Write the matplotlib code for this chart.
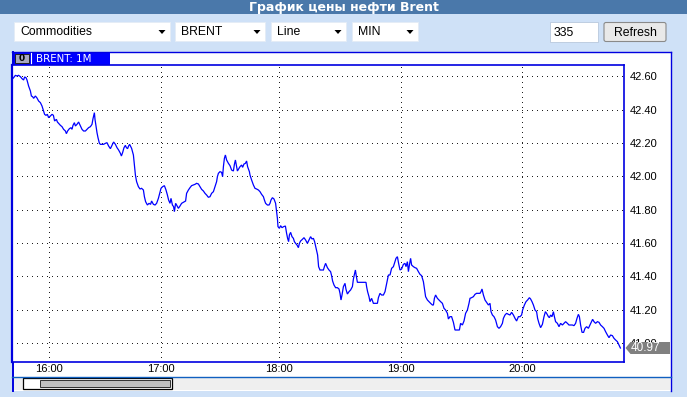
import matplotlib
matplotlib.use("Agg")
import matplotlib.pyplot as plt
from matplotlib.patches import Rectangle, Polygon, FancyBboxPatch

# ---------------- data ----------------
title = "График цены нефти Brent"
controls = ["Commodities", "BRENT", "Line", "MIN"]
bars_count = "335"
button_label = "Refresh"
series_name = "BRENT: 1M"

tick_times = ["16:00", "17:00", "18:00", "19:00", "20:00"]
tick_bar_index = [18.25, 74.5, 133.7, 194.5, 255.2]
price_ticks = [41.00, 41.20, 41.40, 41.60, 41.80, 42.00, 42.20, 42.40, 42.60]
last_price = 40.97

bar_index = [
    0.0, 0.8, 1.7, 2.5, 3.3, 4.2, 5.0, 5.8, 6.3, 7.0, 7.5, 8.3, 9.2, 9.7, 10.3, 10.8,
    11.7, 12.5, 13.3, 14.2, 15.0, 15.8, 16.3, 17.0, 17.7, 18.3, 19.2, 20.0, 20.7, 21.3,
    22.2, 22.7, 23.3, 24.2, 25.0, 25.8, 26.7, 27.2, 27.8, 28.7, 29.5, 30.0, 30.5, 31.2,
    31.7, 32.5, 33.3, 34.2, 35.0, 35.8, 36.7, 37.5, 38.3, 39.2, 40.0, 40.5, 40.8, 41.2,
    41.5, 42.0, 42.5, 43.0, 43.7, 44.2, 45.0, 45.8, 46.7, 47.5, 48.3, 49.2, 50.0, 50.8,
    51.7, 52.5, 53.3, 54.2, 54.7, 55.3, 56.0, 56.7, 57.2, 57.8, 58.3, 58.8,
    59.8, 60.7, 61.2, 61.7, 62.3, 63.2, 64.0, 64.8, 65.7, 66.2, 66.8, 67.7, 68.5, 69.3,
    69.8, 70.7, 71.5, 72.3, 73.2, 73.7, 74.5, 75.3, 76.2, 77.0, 77.7, 78.3, 79.0, 79.5,
    80.2, 80.8, 81.2, 81.8, 82.3, 83.2, 84.0, 84.8, 85.7, 86.8, 87.3, 88.2, 89.0, 89.8,
    90.7, 91.5, 92.3, 93.2, 94.0, 94.8, 95.7, 96.5, 97.3, 98.2, 99.0, 99.8, 100.7, 101.5,
    102.3, 102.7, 103.2, 104.0, 104.8, 105.3, 105.7, 106.2, 106.7, 107.3, 108.2, 109.0,
    109.8, 110.7, 111.2, 111.7, 112.2, 112.7, 113.5, 114.0, 114.8, 115.3, 116.0, 116.7,
    117.3, 117.8, 118.7,
    119.0, 119.8, 120.7, 121.5, 122.3, 123.2, 124.0, 124.8, 125.7, 126.2, 126.8, 127.7,
    128.5, 129.0, 129.5, 130.2, 131.0, 131.8, 132.3, 132.7, 133.0, 133.7, 134.3, 135.0,
    135.8, 136.7, 137.3, 137.8, 138.3, 138.7, 139.3, 140.0, 140.7, 141.2, 141.8, 142.5,
    143.2, 143.7, 144.3, 145.2, 146.0, 146.8, 147.7, 148.5, 149.3, 150.0, 150.7, 151.3,
    152.0, 152.8, 153.3, 154.0, 154.8, 155.7, 156.2, 156.8, 157.7, 158.5, 159.3, 159.8,
    160.3, 161.0, 161.8, 162.7, 163.5, 164.0, 164.5, 165.0, 165.7, 166.5, 167.0, 167.7,
    168.5, 169.3, 170.2, 170.7, 171.2, 171.7, 172.2, 172.7, 174.0, 175.7, 177.0, 177.3,
    177.8, 178.5,
    179.0, 179.8, 180.7, 181.5, 182.7, 183.2, 184.0, 184.8, 185.7, 186.5, 187.0, 187.7,
    188.2, 189.0, 189.8, 190.7, 191.2, 192.0, 192.7, 193.3, 194.0, 194.8, 195.7, 196.5,
    197.0, 197.7, 198.2, 198.7, 199.3, 199.8, 200.7, 201.5, 202.3, 203.2, 204.0, 204.8,
    205.7, 206.2, 206.8, 207.7, 208.5, 209.3, 210.2, 210.7, 211.2, 211.8, 212.7, 213.5,
    214.3, 215.2, 216.0, 216.8, 217.7, 218.2, 219.0, 219.8, 220.7, 221.5, 222.7, 223.7,
    224.3, 225.2, 226.0, 226.8, 227.7, 228.5, 229.0, 229.8, 230.7, 231.5, 232.3, 233.2,
    234.0, 234.5, 235.0, 235.7, 236.5, 237.3, 238.2,
    239.0, 239.5, 240.2, 241.0, 241.8, 242.7, 243.5, 244.3, 245.2, 245.7, 246.5, 247.3,
    248.2, 249.0, 249.8, 250.7, 251.5, 252.3, 253.2, 254.0, 254.8, 255.3, 256.2, 257.0,
    257.8, 258.7, 259.3, 260.0, 260.7, 261.5, 262.3, 262.8, 263.5, 264.3, 265.2, 266.0,
    266.7, 267.3, 268.2, 268.7, 269.3, 270.0, 270.7, 271.2, 271.8, 272.7, 273.5, 274.3,
    275.2, 276.0, 276.8, 277.7, 278.5, 279.3, 280.2, 281.0, 281.8, 282.5, 283.2, 283.7,
    284.3, 285.0, 285.8, 286.5, 287.3, 288.2, 289.0, 289.8, 290.3, 291.0, 291.8, 292.7,
    293.5, 294.3, 295.2, 296.0, 296.8, 297.7, 298.5, 299.3, 300.2, 301.0, 301.8, 302.7,
    303.5, 304.2,
]

price = [
    42.582, 42.592, 42.606, 42.602, 42.606, 42.598, 42.586, 42.578, 42.596, 42.592, 42.578,
    42.542, 42.512, 42.482, 42.478, 42.468, 42.482, 42.470, 42.452, 42.442, 42.422, 42.392,
    42.372, 42.366, 42.372, 42.352, 42.362, 42.372, 42.366, 42.332, 42.342, 42.326, 42.318,
    42.306, 42.298, 42.282, 42.272, 42.256, 42.272, 42.286, 42.292, 42.282, 42.306, 42.322,
    42.302, 42.312, 42.326, 42.302, 42.282, 42.272, 42.272, 42.282, 42.292, 42.298, 42.312,
    42.346, 42.362, 42.382, 42.342, 42.302, 42.262, 42.232, 42.198, 42.192, 42.192, 42.192,
    42.198, 42.202, 42.182, 42.166, 42.186, 42.206, 42.192, 42.172, 42.158, 42.138, 42.122,
    42.142, 42.172, 42.186, 42.172, 42.166, 42.182, 42.192,
    42.168, 42.128, 42.068, 42.008, 41.968, 41.938, 41.924, 41.928, 41.918, 41.878, 41.848,
    41.828, 41.838, 41.832, 41.852, 41.832, 41.828, 41.838, 41.868, 41.892, 41.928, 41.938,
    41.944, 41.918, 41.888, 41.858, 41.838, 41.868, 41.828, 41.818, 41.788, 41.838, 41.828,
    41.808, 41.822, 41.838, 41.844, 41.852, 41.898, 41.918, 41.932, 41.944, 41.948, 41.952,
    41.958, 41.954, 41.938, 41.922, 41.912, 41.898, 41.888, 41.874, 41.878, 41.898, 41.908,
    41.938, 41.968, 41.998, 42.018, 42.028, 42.024, 41.998, 42.058, 42.108, 42.128, 42.098,
    42.078, 42.064, 42.038, 42.032, 42.072, 42.098, 42.064, 42.032, 42.048, 42.058, 42.068,
    42.054, 42.074, 42.078, 42.092, 42.058, 42.028,
    42.008, 41.978, 41.948, 41.928, 41.924, 41.918, 41.908, 41.892, 41.878, 41.858, 41.838,
    41.828, 41.828, 41.838, 41.858, 41.872, 41.864, 41.838, 41.788, 41.748, 41.698, 41.688,
    41.704, 41.692, 41.698, 41.702, 41.658, 41.628, 41.608, 41.648, 41.664, 41.638, 41.628,
    41.608, 41.598, 41.588, 41.572, 41.598, 41.612, 41.622, 41.632, 41.618, 41.598, 41.618,
    41.638, 41.624, 41.628, 41.608, 41.572, 41.528, 41.458, 41.438, 41.438, 41.438, 41.458,
    41.478, 41.452, 41.438, 41.428, 41.404, 41.372, 41.348, 41.332, 41.332, 41.324, 41.298,
    41.258, 41.288, 41.338, 41.358, 41.322, 41.294, 41.308, 41.318, 41.338, 41.384, 41.412,
    41.438, 41.398, 41.364, 41.364, 41.364, 41.364, 41.338, 41.308, 41.278,
    41.248, 41.268, 41.238, 41.238, 41.238, 41.272, 41.298, 41.288, 41.288, 41.308, 41.338,
    41.378, 41.408, 41.408, 41.448, 41.458, 41.478, 41.508, 41.518, 41.478, 41.438, 41.444,
    41.472, 41.478, 41.458, 41.488, 41.428, 41.468, 41.508, 41.468, 41.458, 41.452, 41.448,
    41.428, 41.412, 41.404, 41.368, 41.328, 41.278, 41.258, 41.248, 41.238, 41.228, 41.228,
    41.268, 41.288, 41.268, 41.258, 41.248, 41.238, 41.208, 41.198, 41.178, 41.144, 41.158,
    41.158, 41.124, 41.078, 41.078, 41.078, 41.118, 41.108, 41.132, 41.178, 41.198, 41.238,
    41.268, 41.272, 41.278, 41.292, 41.298, 41.298, 41.298, 41.308, 41.324, 41.288, 41.258,
    41.244, 41.228,
    41.238, 41.188, 41.168, 41.158, 41.138, 41.098, 41.088, 41.098, 41.118, 41.148, 41.168,
    41.178, 41.172, 41.168, 41.184, 41.168, 41.148, 41.132, 41.158, 41.158, 41.168, 41.198,
    41.228, 41.248, 41.258, 41.272, 41.264, 41.248, 41.228, 41.198, 41.188, 41.148, 41.118,
    41.092, 41.112, 41.158, 41.188, 41.178, 41.158, 41.152, 41.168, 41.158, 41.188, 41.158,
    41.128, 41.118, 41.098, 41.118, 41.108, 41.118, 41.128, 41.118, 41.108, 41.108, 41.108,
    41.104, 41.118, 41.148, 41.172, 41.158, 41.108, 41.064, 41.064, 41.088, 41.098, 41.088,
    41.108, 41.128, 41.142, 41.128, 41.118, 41.128, 41.124, 41.108, 41.098, 41.088, 41.068,
    41.048, 41.032, 41.048, 41.044, 41.028, 41.018, 41.008, 40.988, 40.970,
]

# ---------------- figure ----------------
W, H = 687, 397
fig = plt.figure(figsize=(W / 100, H / 100), dpi=100)
fig.patch.set_facecolor("#cfe1f7")

BLUE = "#0000e0"
LF = "Liberation Sans"

bg = fig.add_axes([0, 0, 1, 1], zorder=0)
bg.set_xlim(0, W)
bg.set_ylim(H, 0)
bg.axis("off")

# title bar
bg.add_patch(Rectangle((0, 0), W, 14, color="#4a78aa", lw=0))
bg.text(W / 2, 7.3, title, color="white", fontweight="bold", fontsize=9.0,
        ha="center", va="center", family="DejaVu Sans")

# dropdown controls
boxes = [(14, 170), (175, 265), (271, 346), (352, 418)]
for (x0, x1), lab in zip(boxes, controls):
    bg.add_patch(Rectangle((x0, 22), x1 - x0, 19, facecolor="white",
                           edgecolor="#e4ecf6", lw=0.6))
    bg.text(x0 + 6, 32, lab, fontsize=8.8, family=LF, ha="left", va="center", color="black")
    ax_ = x1 - 8
    bg.add_patch(Polygon([(ax_ - 3.5, 30), (ax_ + 3.5, 30), (ax_, 34)], closed=True,
                         color="black", lw=0))

# number box and refresh button
bg.add_patch(Rectangle((550, 22), 48, 20, facecolor="white", edgecolor="#b8c8dc", lw=0.6))
bg.text(554, 32.5, bars_count, fontsize=8.8, family=LF, ha="left", va="center")
bg.add_patch(FancyBboxPatch((604, 22.5), 62, 19, boxstyle="round,pad=0,rounding_size=2",
                            facecolor="#e9e9e9", edgecolor="#8a8a8a", lw=0.8))
bg.text(635, 32.5, button_label, fontsize=8.8, family=LF, ha="center", va="center")

# chart panel
bg.add_patch(Rectangle((12, 52), 659, 339, facecolor="white", edgecolor="none"))
bg.plot([671, 671], [52, 391], color=BLUE, lw=1.0)
bg.plot([12.5, 12.5], [52, 391], color=BLUE, lw=1.4)
bg.plot([12, 671], [52.3, 52.3], color=BLUE, lw=1.0)

# header tab
bg.add_patch(Rectangle((12, 52), 98, 13, color="#0000ff", lw=0))
bg.add_patch(Rectangle((14.5, 54), 14, 9, facecolor="#a8a8c0", edgecolor="#202020", lw=0.7))
bg.text(21.5, 58.7, "0", fontsize=6.5, fontweight="bold", ha="center", va="center",
        family="DejaVu Sans", color="black")
bg.plot([30.5, 30.5], [53, 64], color="white", lw=0.8)
bg.text(36, 58.8, series_name, fontsize=7.4, family="DejaVu Sans", color="white",
        ha="left", va="center")

# scrollbar area
bg.add_patch(Rectangle((13, 377), 657, 13, color="#efefef", lw=0))
bg.plot([12, 671], [376.7, 376.7], color="#1060c0", lw=1.0)
bg.add_patch(Rectangle((22.5, 378), 149, 10.5, facecolor="white", edgecolor="black", lw=0.9))
bg.add_patch(Rectangle((40, 380), 129.5, 6.5, facecolor="#c0c0c0", edgecolor="#303030", lw=0.7))

# ---------------- main plot ----------------
x0p, x1p, y0p, y1p = 12, 624, 65, 362
ax = fig.add_axes([x0p / W, 1 - y1p / H, (x1p - x0p) / W, (y1p - y0p) / H], zorder=2)
ax.set_facecolor("white")
ax.plot(bar_index, price, color="#0000ff", lw=0.9, solid_joinstyle="miter")
ax.set_xlim(0, 306)
ax.set_ylim(40.886, 42.668)

ax.set_xticks(tick_bar_index)
ax.set_xticklabels(tick_times, fontsize=8, family=LF)
ax.set_yticks(price_ticks)
ax.set_yticklabels([f"{v:.2f}" for v in price_ticks], fontsize=8, family=LF)
ax.yaxis.tick_right()
ax.tick_params(axis="both", length=0, colors="black")
ax.tick_params(axis="y", pad=4)
ax.tick_params(axis="x", pad=1.5)
ax.grid(True, color="#202020", lw=0.72, linestyle=(0, (1, 4.5)), antialiased=False)
ax.set_axisbelow(True)
for side, sp in ax.spines.items():
    sp.set_color(BLUE)
    sp.set_linewidth(1.2)
ax.spines["left"].set_linewidth(1.6)

# ---------------- last value tag ----------------
top = fig.add_axes([0, 0, 1, 1], zorder=5)
top.set_xlim(0, W)
top.set_ylim(H, 0)
top.axis("off")
top.patch.set_alpha(0)
fig.canvas.draw()
_, yd = ax.transData.transform((0, price[-1]))
yp = H - yd
top.add_patch(Polygon([(625.5, yp), (630.5, yp - 6), (670, yp - 6), (670, yp + 6),
                       (630.5, yp + 6)], closed=True, color="#808080", lw=0))
top.text(631, yp + 0.3, f"{last_price:.2f}", fontsize=8.5, family=LF, color="white",
         ha="left", va="center")

fig.savefig("out.png", dpi=100)
